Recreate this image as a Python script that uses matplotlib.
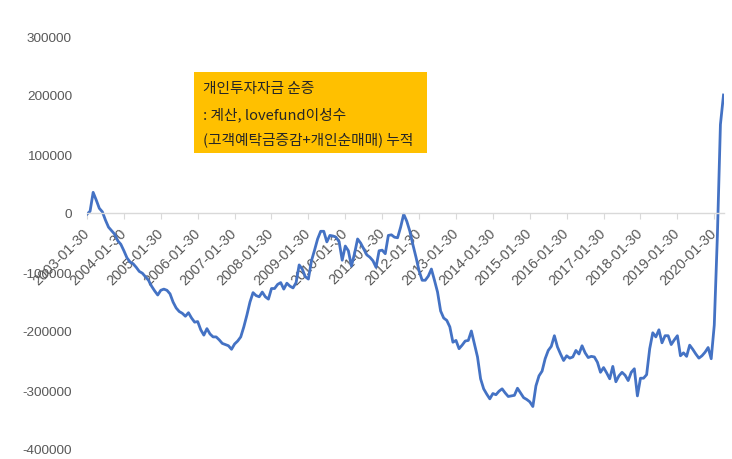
import matplotlib
matplotlib.use("Agg")
import matplotlib.pyplot as plt
from matplotlib.patches import Rectangle

# monthly cumulative net flow (2003-01 .. 2020-04)
values = [
    -2000, 3000, 35000, 22000, 8000, 2000, -12000, -24000, -30000, -36000,
    -47000, -53000, -64000, -76000, -83000, -86000, -92000, -99000, -102000, -108000,
    -114000, -124000, -132000, -139000, -131000, -129000, -131000, -137000, -151000, -161000,
    -167000, -170000, -175000, -169000, -178000, -185000, -184000, -198000, -207000, -196000,
    -205000, -210000, -210000, -215000, -221000, -223000, -225000, -231000, -222000, -217000,
    -210000, -193000, -173000, -151000, -135000, -140000, -142000, -134000, -142000, -146000,
    -128000, -128000, -121000, -118000, -129000, -119000, -124000, -127000, -118000, -88000,
    -95000, -108000, -112000, -81000, -63000, -44000, -31000, -31000, -49000, -38000,
    -39000, -41000, -49000, -80000, -56000, -64000, -90000, -69000, -44000, -51000,
    -61000, -71000, -75000, -81000, -92000, -64000, -63000, -69000, -38000, -37000,
    -41000, -42000, -24000, -2000, -14000, -31000, -54000, -75000, -98000, -114000,
    -114000, -107000, -95000, -114000, -134000, -166000, -178000, -182000, -193000, -219000,
    -216000, -230000, -224000, -217000, -216000, -200000, -222000, -244000, -281000, -298000,
    -307000, -315000, -306000, -308000, -302000, -298000, -305000, -311000, -310000, -309000,
    -297000, -305000, -313000, -316000, -320000, -328000, -293000, -276000, -268000, -247000,
    -233000, -226000, -208000, -227000, -239000, -250000, -242000, -246000, -244000, -233000,
    -239000, -225000, -237000, -245000, -243000, -244000, -253000, -270000, -262000, -271000,
    -281000, -260000, -286000, -276000, -270000, -275000, -284000, -270000, -264000, -310000,
    -280000, -280000, -274000, -230000, -203000, -210000, -198000, -220000, -208000, -208000,
    -223000, -215000, -208000, -242000, -237000, -243000, -224000, -231000, -239000, -246000,
    -242000, -236000, -228000, -247000, -190000, -40000, 150000, 200000,
]

tick_labels = [
    "2003-01-30", "2004-01-30", "2005-01-30", "2006-01-30", "2007-01-30", "2008-01-30",
    "2009-01-30", "2010-01-30", "2011-01-30", "2012-01-30", "2013-01-30", "2014-01-30",
    "2015-01-30", "2016-01-30", "2017-01-30", "2018-01-30", "2019-01-30", "2020-01-30",
]
y_ticks = [-400000, -300000, -200000, -100000, 0, 100000, 200000, 300000]
note_lines = ["개인투자자금 순증", ": 계산, lovefund이성수", "(고객예탁금증감+개인순매매) 누적"]

W, H = 732, 460
fig = plt.figure(figsize=(W / 100, H / 100), dpi=100)
ax = fig.add_axes([87 / W, 10 / H, 636.5 / W, 413 / H])

x = list(range(len(values)))
ax.plot(x, values, color="#4472C4", lw=2.0, solid_joinstyle="round")

ax.set_xlim(0, len(values) - 1)
ax.set_ylim(-400000, 300000)

for s in ["top", "right", "left"]:
    ax.spines[s].set_visible(False)
ax.spines["bottom"].set_position(("data", 0))
ax.spines["bottom"].set_color("#d9d9d9")
ax.spines["bottom"].set_linewidth(1.0)

gray = "#595959"
ax.set_yticks(y_ticks)
ax.set_yticklabels([str(v) for v in y_ticks], family="Liberation Sans", fontsize=9.7, color=gray)
ax.tick_params(axis="y", length=0, pad=10.8)

ax.set_xticks([12 * i for i in range(len(tick_labels))])
ax.set_xticklabels(tick_labels, rotation=45, ha="right", va="center",
                   rotation_mode="anchor", family="Liberation Sans", fontsize=10.4, color=gray)
ax.tick_params(axis="x", direction="out", length=4, color="#d9d9d9", pad=8.5)

# annotation box
fig.patches.append(Rectangle((194 / W, 1 - 154 / H), (427 - 194) / W, (154 - 72.5) / H,
                             transform=fig.transFigure, facecolor="#FFC000", edgecolor="none", zorder=3))
for i, line in enumerate(note_lines):
    fig.text(203 / W, 1 - (89 + 25.5 * i) / H, line, family=["Noto Sans CJK KR", "DejaVu Sans"],
             fontsize=10.6, color="#262626", va="center", ha="left", zorder=4)

fig.savefig("out.png", dpi=100)
